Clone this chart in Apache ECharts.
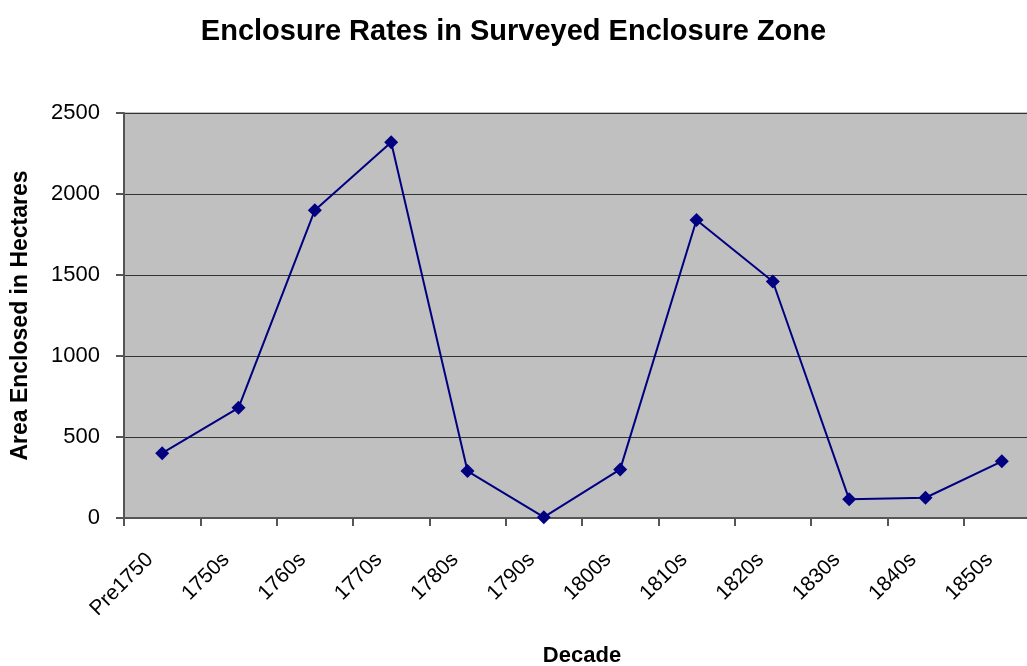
<!DOCTYPE html>
<html>
<head>
<meta charset="utf-8">
<script src="https://cdn.jsdelivr.net/npm/echarts@6/dist/echarts.min.js"></script>
<style>
  html, body { margin: 0; padding: 0; background: #fff; }
  #main { width: 1027px; height: 666px; }
</style>
</head>
<body>
<div id="main"></div>
<script>
// decades along the x axis
var decades = ['Pre1750', '1750s', '1760s', '1770s', '1780s', '1790s',
               '1800s', '1810s', '1820s', '1830s', '1840s', '1850s'];
// area enclosed (hectares)
var areaEnclosed = [400, 680, 1900, 2320, 290, 5, 300, 1840, 1460, 115, 125, 350];
var yTicks = [0, 500, 1000, 1500, 2000, 2500];

var myChart = echarts.init(document.getElementById('main'));
myChart.setOption({
    animation: false,
    textStyle: { fontFamily: 'Liberation Sans, Arial, sans-serif' },
    title: {
        text: 'Enclosure Rates in Surveyed Enclosure Zone',
        left: 'center',
        top: 12,
        textStyle: { fontSize: 29, fontWeight: 'bold', color: '#000' }
    },
    grid: {
        left: 124, top: 113, height: 405, width: 916,
        outerBoundsMode: 'none',
        containLabel: false,
        show: true, backgroundColor: '#c0c0c0', borderColor: '#808080', borderWidth: 1
    },
    xAxis: {
        type: 'category',
        data: decades,
        boundaryGap: true,
        name: 'Decade',
        nameLocation: 'middle',
        nameGap: 127,
        nameTextStyle: { fontSize: 22, fontWeight: 'bold', color: '#000' },
        axisLine: { lineStyle: { color: '#555', width: 2 } },
        axisTick: { show: true, length: 8, lineStyle: { color: '#555', width: 2 } },
        axisLabel: {
            rotate: 45, fontSize: 21, color: '#000', margin: 26, interval: 0,
            formatter: function (v) { return v + '   '; }
        },
        splitLine: { show: false }
    },
    yAxis: {
        type: 'value',
        min: yTicks[0],
        max: yTicks[yTicks.length - 1],
        interval: 500,
        name: 'Area Enclosed in Hectares',
        nameLocation: 'middle',
        nameGap: 92,
        nameTextStyle: { fontSize: 23, fontWeight: 'bold', color: '#000' },
        axisLine: { show: true, lineStyle: { color: '#555', width: 2 } },
        axisTick: { show: true, inside: false, length: 8, lineStyle: { color: '#555', width: 2 } },
        axisLabel: {
            fontSize: 22, color: '#000', margin: 24,
            formatter: function (v) { return String(v); }
        },
        splitLine: { show: true, lineStyle: { color: '#333', width: 1 } }
    },
    series: [{
        name: 'Area Enclosed',
        type: 'line',
        data: areaEnclosed,
        symbol: 'diamond',
        symbolSize: 14,
        lineStyle: { color: '#000080', width: 2 },
        itemStyle: { color: '#000080' }
    }]
});
</script>
</body>
</html>
